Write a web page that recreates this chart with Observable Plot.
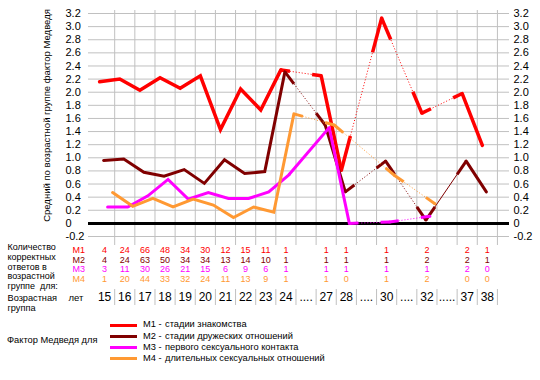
<!DOCTYPE html>
<html><head><meta charset="utf-8">
<script src="https://cdn.jsdelivr.net/npm/d3@7"></script>
<script src="https://cdn.jsdelivr.net/npm/@observablehq/plot@0.6"></script>
<style>
body{margin:0;background:#fff;font-family:"Liberation Sans",Arial,sans-serif;color:#000}
#chart{width:540px;height:380px;position:relative;overflow:hidden}
#chart svg{display:block}
.legend{position:relative;height:62px;font-size:9.3px}
.ltitle{position:absolute;left:7px;top:16px;line-height:12px;white-space:nowrap}
.litems{position:absolute;left:110px;top:1.4px}
.lrow{height:11.3px;line-height:11.3px;white-space:nowrap;display:flex;align-items:center}
.sw{display:inline-block;width:27px;height:3px;margin-right:6px}
.lm{display:inline-block;width:22px}
</style></head><body><div id="chart"></div>
<script>
// ---- data ----
const categories = ["15","16","17","18","19","20","21","22","23","24","....","27","28","....","30","....","32",".....","37","38"];
const m1 = [2.16,2.20,2.03,2.22,2.06,2.25,1.43,2.05,1.73,2.34,null,2.25,0.81,null,3.13,null,1.68,null,1.98,1.19];
const m2 = [0.96,0.98,0.78,0.72,0.82,0.61,0.97,0.76,0.79,2.31,null,1.50,0.48,null,0.95,null,0.05,null,0.95,0.48];
const m3 = [0.25,0.25,0.42,0.67,0.37,0.47,0.38,0.38,0.48,0.74,null,1.46,0.00,null,0.02,null,0.11,null,null,null];
const m4 = [0.47,0.26,0.38,0.25,0.37,0.28,0.09,0.25,0.17,1.67,null,1.50,null,null,0.73,null,0.30,null,null,null];
const n1 = [4,24,66,48,34,30,12,15,11,1,null,1,1,null,1,null,2,null,2,1];
const n2 = [4,24,63,50,34,34,13,14,10,1,null,1,1,null,1,null,2,null,2,1];
const n3 = [3,11,30,26,21,15,6,9,6,1,null,1,1,null,1,null,1,null,2,0];
const n4 = [1,20,44,33,32,24,11,13,9,1,null,1,0,null,1,null,2,null,0,0];
const seriesNames = ["M1","M2","M3","M4"];
const legendLabels = ["стадии знакомства","стадии дружеских отношений","первого сексуального контакта","длительных сексуальных отношений"];
const yTicks = [-0.2,0,0.2,0.4,0.6,0.8,1.0,1.2,1.4,1.6,1.8,2.0,2.2,2.4,2.6,2.8,3.0,3.2];
const yTickLabels = ["-0.2","0","0.2","0.4","0.6","0.8","1.0","1.2","1.4","1.6","1.8","2.0","2.2","2.4","2.6","2.8","3.0","3.2"];
const yTitle = "Средний по возрастной группе фактор Медведя";
const tableTitle = "Количество\nкорректных\nответов в\nвозрастной\nгруппе\u00a0\u00a0для:";
const ageTitle = "Возрастная\nгруппа";
const ageUnit = "лет";
const legendTitle = "Фактор Медведя для";

// ---- styles ----
const colors = ["#ff0000","#800000","#ff00ff","#ff9933"];
const widths = [3.5,3,3,3];
const seriesDx = [-5,-1,3,8];
const rowDy = [14,23.5,32.5,42.5];
const gapStyle = [{}, {"32":"thin"}, {"24":"thick"}, {}];
const stubLen = 0.45;
const FONT = "Liberation Sans, Arial, sans-serif";

const values = [m1,m2,m3,m4];
const counts = [n1,n2,n3,n4];
const gridX = categories.map((c,i)=>i+0.5);

function gapsOf(vals){
  const idx = vals.map((v,i)=>v==null?-1:i).filter(i=>i>=0);
  const out=[];
  for(let k=1;k<idx.length;k++){const a=idx[k-1], b=idx[k]; if(b-a>1) out.push({a,b,ya:vals[a],yb:vals[b]});}
  return out;
}

const marks = [
  Plot.ruleY(yTicks, {stroke:"#c0c0c0", strokeWidth:1}),
  Plot.ruleX(gridX, {stroke:"#c0c0c0", strokeWidth:1, insetTop:-3, insetBottom:-9}),
  Plot.ruleX(gridX, {stroke:"#c0c0c0", strokeWidth:1, insetTop:276, insetBottom:-69}),
  Plot.ruleY([0], {stroke:"#000", strokeWidth:3})
];

values.forEach((vals,s)=>{
  const rows = vals.map((v,i)=>({i, v}));
  const gaps = gapsOf(vals);
  const style = gapStyle[s];
  const dotted = gaps.filter(g=>!style[categories[g.a]]);
  const thin = gaps.filter(g=>style[categories[g.a]]==="thin");
  const thick = gaps.filter(g=>style[categories[g.a]]==="thick");
  const stubs = [];
  gaps.filter(g=>style[categories[g.a]]!=="thick").forEach(g=>{
    const slope = (g.yb-g.ya)/(g.b-g.a);
    stubs.push({x1:g.a, y1:g.ya, x2:g.a+stubLen, y2:g.ya+slope*stubLen});
    stubs.push({x1:g.b-stubLen, y1:g.yb-slope*stubLen, x2:g.b, y2:g.yb});
  });
  marks.push(
    Plot.link(dotted, {x1:"a", y1:"ya", x2:"b", y2:"yb", stroke:colors[s], strokeWidth:1, strokeDasharray:"1 2", dx:seriesDx[s]}),
    Plot.link(thin, {x1:"a", y1:"ya", x2:"b", y2:"yb", stroke:colors[s], strokeWidth:1, dx:seriesDx[s]}),
    Plot.link(thick, {x1:"a", y1:"ya", x2:"b", y2:"yb", stroke:colors[s], strokeWidth:widths[s], dx:seriesDx[s]}),
    Plot.link(stubs, {x1:"x1", y1:"y1", x2:"x2", y2:"y2", stroke:colors[s], strokeWidth:widths[s], strokeLinecap:"butt", dx:seriesDx[s]}),
    Plot.line(rows, {x:"i", y:"v", stroke:colors[s], strokeWidth:widths[s], strokeLinejoin:"miter", strokeMiterlimit:3, dx:seriesDx[s]})
  );
});

// axis labels
marks.push(
  Plot.text(yTicks, {y:d=>d, text:(d,i)=>yTickLabels[i], frameAnchor:"left", textAnchor:"start", lineAnchor:"middle", dx:-23, fontSize:11, fontFamily:FONT, fill:"#000"}),
  Plot.text(yTicks, {y:d=>d, text:(d,i)=>yTickLabels[i], frameAnchor:"right", textAnchor:"start", lineAnchor:"middle", dx:4, fontSize:11, fontFamily:FONT, fill:"#000"}),
  Plot.text([yTitle], {frameAnchor:"left", rotate:-90, textAnchor:"middle", lineAnchor:"middle", dx:-42, dy:-9.5, fontSize:9.5, fontFamily:FONT, fill:"#000"})
);

// table
counts.forEach((cs,s)=>{
  const rows = cs.map((n,i)=>({i,n})).filter(d=>d.n!=null);
  marks.push(Plot.text(rows, {x:"i", text:d=>String(d.n), frameAnchor:"bottom", lineAnchor:"middle", dy:rowDy[s], fontSize:9, fontFamily:FONT, fill:colors[s]}));
  marks.push(Plot.text([seriesNames[s]], {frameAnchor:"bottom-left", textAnchor:"start", lineAnchor:"middle", dx:-16, dy:rowDy[s], fontSize:9, fontFamily:FONT, fill:colors[s]}));
});
marks.push(
  Plot.text(categories, {x:(d,i)=>i, text:d=>d, frameAnchor:"bottom", lineAnchor:"middle", dy:61, fontSize:12, fontFamily:FONT, fill:"#000"}),
  Plot.text([tableTitle], {frameAnchor:"bottom-left", textAnchor:"start", lineAnchor:"middle", lineHeight:1.06, dx:-81, dy:30, fontSize:9, fontFamily:FONT, fill:"#000"}),
  Plot.text([ageTitle], {frameAnchor:"bottom-left", textAnchor:"start", lineAnchor:"middle", lineHeight:1.1, dx:-81, dy:66, fontSize:9.2, fontFamily:FONT, fill:"#000"}),
  Plot.text([ageUnit], {frameAnchor:"bottom-left", textAnchor:"start", lineAnchor:"middle", dx:-20, dy:61, fontSize:9.5, fontFamily:FONT, fill:"#000"})
);

const chart = Plot.plot({
  width:540, height:318,
  marginLeft:88, marginRight:31, marginTop:13, marginBottom:82,
  x:{type:"linear", domain:[-0.8,20.1], axis:null},
  y:{domain:[-0.2,3.2], axis:null},
  style:{background:"#fff", fontFamily:FONT, overflow:"visible"},
  marks
});
document.getElementById("chart").appendChild(chart);

// legend
const legend = d3.select("#chart").append("div").attr("class","legend");
legend.append("div").attr("class","ltitle").text(legendTitle);
const items = legend.append("div").attr("class","litems");
seriesNames.forEach((s,i)=>{
  const row = items.append("div").attr("class","lrow");
  row.append("span").attr("class","sw").style("background", colors[i]);
  row.append("span").attr("class","lm").text(s+" -");
  row.append("span").text(legendLabels[i]);
});
</script></body></html>
